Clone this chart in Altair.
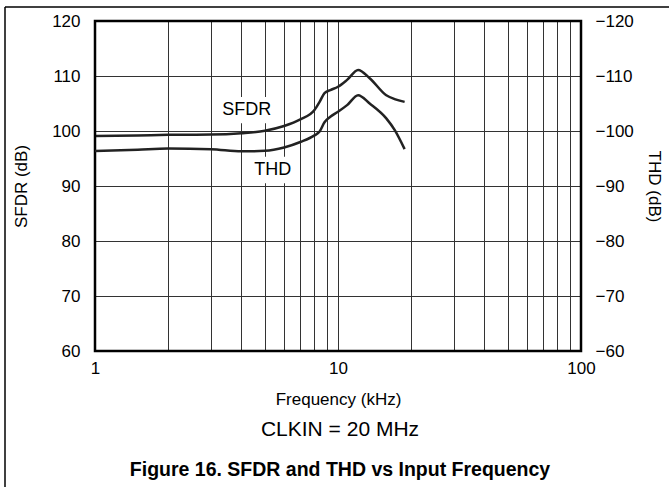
import altair as alt
import pandas as pd

# ---- data ----
sfdr_freq = [1, 1.5, 2, 3, 4, 5, 6, 7, 8, 8.4, 8.8, 9.3, 10, 10.9, 12.1, 13.5, 15.8, 17.1, 18.8]
sfdr_db = [99.1, 99.2, 99.3, 99.35, 99.6, 100.05, 100.9, 102.1, 103.8, 105.3, 106.9, 107.45,
           108.05, 109.3, 111.1, 109.6, 106.5, 105.8, 105.3]

thd_freq = [1, 1.5, 2, 3, 4, 5, 6, 7, 8, 8.4, 8.8, 9.3, 10, 10.9, 12.1, 13.5, 15.8, 17.1, 18.8]
thd_db = [-96.35, -96.6, -96.8, -96.7, -96.3, -96.4, -97.0, -98.0, -99.2, -99.9, -101.6, -102.6,
          -103.5, -104.7, -106.5, -105.0, -102.3, -100.2, -96.7]

x_grid = [1, 2, 3, 4, 5, 6, 7, 8, 9, 10, 20, 30, 40, 50, 60, 70, 80, 90, 100]
left_ticks = [60, 70, 80, 90, 100, 110, 120]
right_ticks = [-120, -110, -100, -90, -80, -70, -60]

labels = ["SFDR", "THD"]
label_freq = [4.21, 5.39]
label_db = [103.8, 93.0]
box_f1 = [3.27, 4.35]
box_f2 = [5.35, 6.64]
box_d1 = [101.4, 90.5]
box_d2 = [106.2, 95.3]

FONT = "Liberation Sans"

sfdr_df = pd.DataFrame({"f": sfdr_freq, "v": sfdr_db})
thd_df = pd.DataFrame({"f": thd_freq, "v": thd_db})
lab_df = pd.DataFrame({"t": labels, "f": label_freq, "d": label_db,
                       "f1": box_f1, "f2": box_f2, "d1": box_d1, "d2": box_d2})

xscale = alt.Scale(type="log", domain=[1, 100])
yscale = alt.Scale(domain=[60, 120])

x_axis = alt.Axis(values=x_grid, grid=True, ticks=False, domain=False,
                  labelExpr="(datum.value==1||datum.value==10||datum.value==100) ? format(datum.value,'d') : ''",
                  labelFont=FONT, labelFontSize=17, labelColor="black", labelPadding=9,
                  title="Frequency (kHz)", titleFont=FONT, titleFontSize=17,
                  titleFontWeight="normal", titleColor="black", titlePadding=15,
                  gridColor="#333333", gridWidth=1, gridOpacity=1, labelFlush=False,
                  labelOverlap=False)

y_axis = alt.Axis(values=left_ticks, grid=True, ticks=False, domain=False,
                  labelFont=FONT, labelFontSize=17, labelColor="black", labelPadding=15,
                  title="SFDR (dB)", titleFont=FONT, titleFontSize=17,
                  titleFontWeight="normal", titleColor="black", titlePadding=21,
                  gridColor="#333333", gridWidth=1, gridOpacity=1)

y_axis_r = alt.Axis(values=right_ticks, grid=False, ticks=False, domain=False, orient="right",
                    labelExpr="'\u2212' + format(abs(datum.value),'d')",
                    labelFont=FONT, labelFontSize=17, labelColor="black", labelPadding=14,
                    title="THD (dB)", titleFont=FONT, titleFontSize=17,
                    titleFontWeight="normal", titleColor="black", titlePadding=11)

sfdr_line = alt.Chart(sfdr_df).mark_line(color="#222222", strokeWidth=2.5, interpolate="monotone").encode(
    x=alt.X("f:Q", scale=xscale, axis=x_axis),
    y=alt.Y("v:Q", scale=yscale, axis=y_axis),
)

boxes = alt.Chart(lab_df).mark_rect(color="white").encode(
    x=alt.X("f1:Q", scale=xscale, axis=x_axis), x2="f2:Q",
    y=alt.Y("d1:Q", scale=yscale, axis=y_axis), y2="d2:Q",
)

texts = alt.Chart(lab_df).mark_text(font=FONT, fontSize=18, color="black", baseline="middle", align="center").encode(
    x=alt.X("f:Q", scale=xscale, axis=x_axis), y=alt.Y("d:Q", scale=yscale, axis=y_axis), text="t:N"
)

one = pd.DataFrame({"a": [0]})
frame = alt.Chart(one).mark_rect(filled=False, stroke="black", strokeWidth=2.5).encode(
    x=alt.value(0), x2=alt.value(486), y=alt.value(0), y2=alt.value(330))
clkin = alt.Chart(one).mark_text(font=FONT, fontSize=21, color="black", align="center",
                                 baseline="alphabetic", text="CLKIN = 20 MHz").encode(
    x=alt.value(245), y=alt.value(415))
fig_title = alt.Chart(one).mark_text(font=FONT, fontSize=19.5, fontWeight="bold", color="black",
                                     align="center", baseline="alphabetic",
                                     text="Figure 16. SFDR and THD vs Input Frequency").encode(
    x=alt.value(245), y=alt.value(455))
top_rule = alt.Chart(one).mark_rule(color="black", strokeWidth=1.5).encode(
    x=alt.value(-90), x2=alt.value(580), y=alt.value(-14))
left_rule = alt.Chart(one).mark_rule(color="black", strokeWidth=1.5).encode(
    x=alt.value(-90), y=alt.value(-14), y2=alt.value(470))

left_layer = alt.layer(boxes, sfdr_line, texts, frame, clkin, fig_title, top_rule, left_rule)

thd_line = alt.Chart(thd_df).mark_line(color="#222222", strokeWidth=2.5, interpolate="monotone").encode(
    x=alt.X("f:Q", scale=xscale, axis=x_axis),
    y=alt.Y("v:Q", scale=alt.Scale(domain=[-60, -120]), axis=y_axis_r),
)

chart = alt.layer(left_layer, thd_line).resolve_scale(y="independent").properties(
    width=486, height=330,
    autosize=alt.AutoSizeParams(type="none"),
    padding={"left": 95, "top": 21, "right": 88, "bottom": 136},
).configure_view(stroke="black", strokeWidth=2.5).configure(background="white")

chart.save("out.html", embed_options={"renderer": "svg", "actions": False})
